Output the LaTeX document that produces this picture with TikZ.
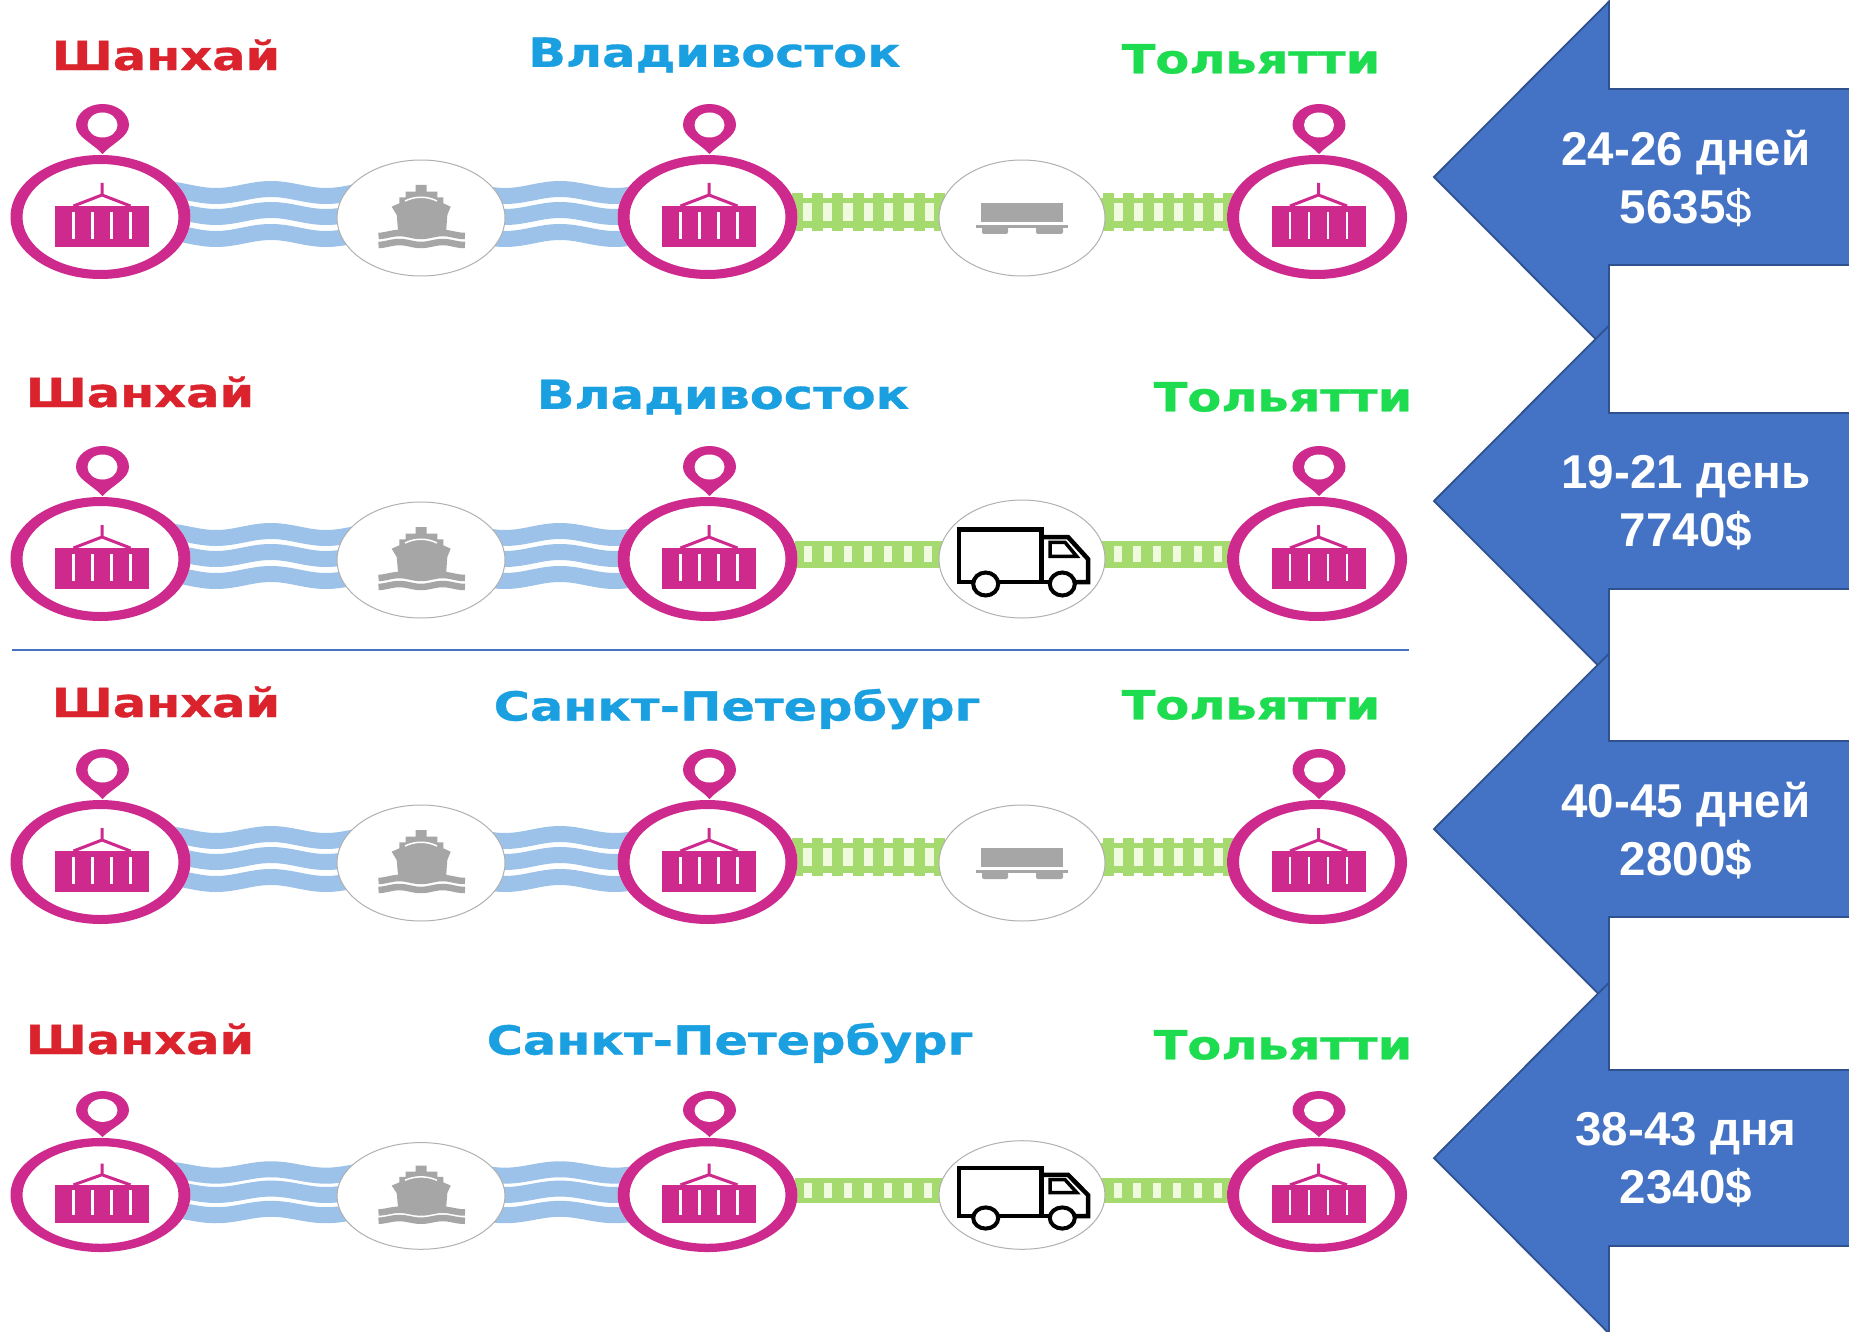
\documentclass[tikz,border=0pt]{standalone}
\usepackage{fontspec}
\setmainfont{Liberation Sans}
\newfontfamily\labfont[FakeStretch=1.235,FakeBold=0.8]{DejaVu Sans Bold}
\definecolor{pinkc}{HTML}{CE2A8E}
\definecolor{wavec}{HTML}{9CC2E9}
\definecolor{railc}{HTML}{A5DA6E}
\definecolor{railw}{HTML}{F0FADF}
\definecolor{greyc}{HTML}{A6A6A6}
\definecolor{ringc}{HTML}{B0B0B0}
\definecolor{arrowf}{HTML}{4472C4}
\definecolor{arrowd}{HTML}{2F528F}
\definecolor{redc}{HTML}{DA232C}
\definecolor{bluec}{HTML}{1AA0E0}
\definecolor{greenc}{HTML}{1EDC50}
\tikzset{
  citylabel/.style={font=\labfont\fontsize{40}{40}\selectfont,inner sep=0pt,anchor=center},
  arrowtext/.style={font=\bfseries\fontsize{47.5}{58}\selectfont,text=white,align=center,inner sep=0pt},
  bigarrow/.style={fill=arrowf,draw=arrowd,line width=1.8pt,miter limit=10},
  modecircle/.style={fill=white,draw=ringc,line width=1pt},
  wavestroke/.style={draw=wavec,line width=16pt},
  truckline/.style={draw=black,line width=4.5pt,line join=miter},
}
% one terminal: pin, ring, container
\newcommand{\terminal}[1]{%
  \begin{scope}[shift={(#1,0)}]
    \fill[white] (0,0) ellipse [x radius=90,y radius=62];
    \fill[pinkc,even odd rule] (0,0) ellipse [x radius=90,y radius=62] (0,0) ellipse [x radius=78,y radius=53];
    \fill[pinkc] (2,-63) .. controls (-8,-74) and (-24.5,-80) .. (-24.5,-92)
      .. controls (-24.5,-104) and (-12,-113) .. (2,-113)
      .. controls (16,-113) and (28.5,-104) .. (28.5,-92)
      .. controls (28.5,-80) and (12,-74) .. (2,-63) -- cycle;
    \fill[white] (2,-92) ellipse [x radius=15,y radius=12.5];
    \fill[pinkc] (-45.5,-11) rectangle (48.5,30);
    \draw[pinkc,line width=3pt] (1.5,-34) -- (1.5,-22) (-27,-11) -- (1.5,-22) -- (30,-11);
    \foreach \rx in {-27,-8,11,30} \draw[white,line width=2.8pt] (\rx,-5) -- (\rx,22);
  \end{scope}}
% one water segment, three wavy bands
\newcommand{\waveseg}[3]{%
  \foreach \yy in {-24.5,-3.5,18.5}
    \draw[wavestroke] plot[smooth,domain=#1:#2,samples=30] (\x,{\yy-3.5*cos(3.27*(\x-#3))});}
\newcommand{\shipcircle}{%
  \begin{scope}[shift={(421,1)}]
    \draw[modecircle] (0,0) ellipse [x radius=84,y radius=58];
    \fill[greyc] (-5.3,-33) -- (5.7,-33) -- (5.7,-26.3) -- (16.3,-26.3) -- (16.3,-20.7) -- (22.3,-20.7) -- (22.3,-14.7) -- (29.7,-11.3) -- (26.3,-3) -- (25,15.3) -- (-22.7,15.3) -- (-24.3,-3) -- (-29.3,-11.3) -- (-21.7,-14.7) -- (-21.7,-20.7) -- (-15.3,-20.7) -- (-15.3,-26.3) -- (-5.3,-26.3) -- cycle;
    \draw[white,line width=1.5pt] (-16,-17) .. controls (-6,-22) and (6,-22) .. (16,-17);
    \foreach \yy in {16.5,25.5}
      \draw[greyc,line width=6.5pt] plot[smooth,domain=-42.5:44,samples=24] (\x,{\yy+1.5*cos(8.3*\x)});
  \end{scope}}
\newcommand{\wagoncircle}{%
  \begin{scope}[shift={(1022,1)}]
    \draw[modecircle] (0,0) ellipse [x radius=83,y radius=58];
    \fill[greyc] (-41,-15) rectangle (41,4);
    \fill[greyc] (-46,7) rectangle (46,10);
    \fill[greyc,rounded corners=2pt] (-40,9) rectangle (-14,16);
    \fill[greyc,rounded corners=2pt] (14,9) rectangle (41,16);
  \end{scope}}
\newcommand{\truckcircle}{%
  \begin{scope}[shift={(1022,0)}]
    \draw[modecircle] (0,0) ellipse [x radius=83,y radius=59];
    \draw[truckline] (-27,23) -- (-63,23) -- (-63,-29.5) -- (19.5,-29.5) -- (19.5,23);
    \draw[truckline] (-23,23) -- (27,23);
    \draw[truckline] (19.5,-22) -- (46,-22) -- (66,0) -- (66,23) -- (52,23);
    \draw[draw=black,fill=white,line width=4pt] (-36.3,25) ellipse [x radius=12.5,y radius=11.5];
    \draw[draw=black,fill=white,line width=4pt] (40.3,25) ellipse [x radius=12.5,y radius=11.5];
    \draw[draw=black,fill=white,line width=3.5pt] (28,-16.7) -- (43,-16.7) -- (54.7,-2.7) -- (28,-2.7) -- cycle;
  \end{scope}}
\newcommand{\tierail}{%
  \fill[railw] (795,-19) rectangle (945,9);
  \fill[railw] (1100,-19) rectangle (1235,9);
  \fill[railc] (795,-19) rectangle (945,-14);
  \fill[railc] (795,4) rectangle (945,11);
  \fill[railc] (1100,-19) rectangle (1235,-14);
  \fill[railc] (1100,4) rectangle (1235,11);
  \foreach \tx in {797,817.3,837.6,858,878.3,898.6,919,939}
    \fill[railc] (\tx-5.5,-24) rectangle (\tx+5.5,14);
  \foreach \tx in {1108,1128,1148,1168,1188,1208,1228}
    \fill[railc] (\tx-5.5,-24) rectangle (\tx+5.5,14);}
\newcommand{\plainrail}{%
  \fill[railc] (795,-18.5) rectangle (1232,9);
  \foreach \tx in {807.7,827.7,847.7,867.7,888,908,928,1117.7,1136.7,1156.7,1176.7,1197.7,1217.7}
    \fill[railw] (\tx-4,-13) rectangle (\tx+4,3);}
\newcommand{\arrowshape}[1]{%
  \draw[bigarrow] (1434,#1) -- (1609,#1-175.5) -- (1609,#1-88) -- (1870,#1-88) -- (1870,#1+88) -- (1609,#1+88) -- (1609,#1+175.5) -- cycle;}
\newcommand{\waterway}{\waveseg{165}{375}{271}\waveseg{465}{650}{560}}
\begin{document}
\begin{tikzpicture}[x=1pt,y=-1pt]
\useasboundingbox (0,0) rectangle (1849,1332);
\clip (0,0) rectangle (1849,1332);
\fill[white] (0,0) rectangle (1849,1332);
% row 1
\begin{scope}[shift={(0,217)}]
  \waterway\tierail
  \terminal{100.5}\terminal{707.5}\terminal{1317}\shipcircle\wagoncircle
\end{scope}
% row 2
\begin{scope}[shift={(0,559)}]
  \waterway\plainrail
  \terminal{100.5}\terminal{707.5}\terminal{1317}\shipcircle\truckcircle
\end{scope}
% row 3
\begin{scope}[shift={(0,862)}]
  \waterway\tierail
  \terminal{100.5}\terminal{707.5}\terminal{1317}\shipcircle\wagoncircle
\end{scope}
% row 4
\begin{scope}[shift={(0,1195)},yscale=0.92]
  \waterway\plainrail
  \terminal{100.5}\terminal{707.5}\terminal{1317}\shipcircle\truckcircle
\end{scope}
% divider
\coordinate (divl) at (12,650);
\coordinate (divr) at (1409,650);
\draw[arrowf,line width=1.5pt] (divl) -- (divr);
% city labels
\node[citylabel,text=redc] (a1) at (166,55) {Шанхай};
\node[citylabel,text=bluec] (b1) at (714.5,55) {Владивосток};
\node[citylabel,text=greenc] (c1) at (1251,59) {Тольятти};
\node[citylabel,text=redc] (a2) at (140,392) {Шанхай};
\node[citylabel,text=bluec] (b2) at (723,397) {Владивосток};
\node[citylabel,text=greenc] (c2) at (1283,397) {Тольятти};
\node[citylabel,text=redc] (a3) at (166,702) {Шанхай};
\node[citylabel,text=bluec] (b3) at (737,709) {Санкт-Петербург};
\node[citylabel,text=greenc] (c3) at (1251,705) {Тольятти};
\node[citylabel,text=redc] (a4) at (140,1039) {Шанхай};
\node[citylabel,text=bluec] (b4) at (730,1043) {Санкт-Петербург};
\node[citylabel,text=greenc] (c4) at (1283,1045) {Тольятти};
% arrows, later over earlier
\arrowshape{177}
\node[arrowtext] (t1) at (1686,178.5) {24-26 дней\\5635{\mdseries\$}};
\arrowshape{501}
\node[arrowtext] (t2) at (1686,503) {19-21 день\\7740\$};
\arrowshape{829}
\node[arrowtext] (t3) at (1686,831) {40-45 дней\\2800\$};
\arrowshape{1158}
\node[arrowtext] (t4) at (1686,1160) {38-43 дня\\2340\$};
\end{tikzpicture}
\end{document}
